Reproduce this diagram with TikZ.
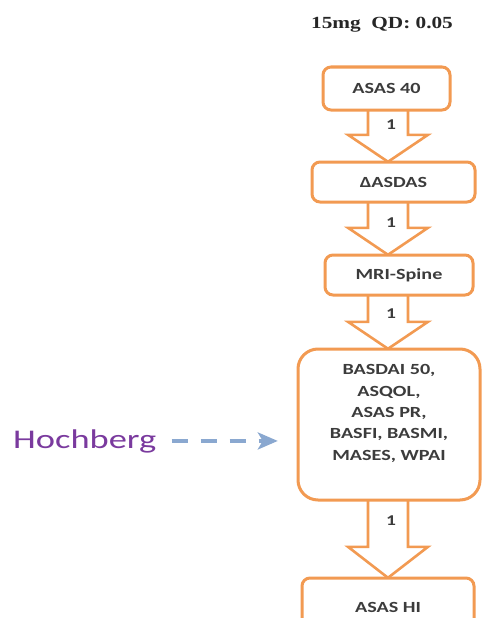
\documentclass[tikz,border=0pt]{standalone}
\usepackage{fontspec}
\setmainfont{Carlito}
\newfontfamily\boxfont[FakeStretch=1.3]{Carlito}
\newfontfamily\hochfont[FakeStretch=1.35]{Carlito}
\newfontfamily\titlefont[FakeStretch=1.25]{Liberation Serif}
\usetikzlibrary{calc,arrows.meta}
\definecolor{orng}{HTML}{F29A52}
\definecolor{txt}{HTML}{3C3C3C}
\definecolor{purp}{HTML}{7A3A9E}
\definecolor{dashblue}{HTML}{8AA8D0}
\newcommand{\blockarr}[3]{%
  \draw[barrow] ($(axis |- #1.south)+(-20,0)$) -- ($(axis |- #2.north)+(-20,-#3)$)
    -- ($(axis |- #2.north)+(-40,-#3)$) -- (axis |- #2.north)
    -- ($(axis |- #2.north)+(40,-#3)$) -- ($(axis |- #2.north)+(20,-#3)$)
    -- ($(axis |- #1.south)+(20,0)$);}
\begin{document}
\begin{tikzpicture}[x=1pt,y=-1pt,
  box/.style={draw=orng, line width=3pt, fill=white, rounded corners=8pt,
    align=center, font=\boxfont\bfseries\fontsize{15.5}{21.3}\selectfont,
    text=txt, inner sep=0pt},
  barrow/.style={draw=orng, line width=2.6pt, fill=white, line join=miter},
  num/.style={font=\boxfont\bfseries\fontsize{15}{18}\selectfont, text=txt, inner sep=0pt}]
\useasboundingbox (0,0) rectangle (482,618);
\coordinate (axis) at (388,0);
% title
\node[font=\titlefont\bfseries\fontsize{17}{19}\selectfont, text=black!85] (title) at (382,25) {15mg\ \ QD: 0.05};
% box frames (positions)
\path (386.5,88.5) coordinate (p1) (393.5,182) coordinate (p2) (399,275) coordinate (p3)
      (389,424.5) coordinate (p4) (388,607) coordinate (p5);
\node[minimum width=127pt, minimum height=43pt, inner sep=0pt] (b1) at (p1) {};
\node[minimum width=163pt, minimum height=40pt, inner sep=0pt] (b2) at (p2) {};
\node[minimum width=148pt, minimum height=40pt, inner sep=0pt] (b3) at (p3) {};
\node[minimum width=182pt, minimum height=151pt, inner sep=0pt] (b4) at (p4) {};
\node[minimum width=172pt, minimum height=58pt, inner sep=0pt] (b5) at (p5) {};
% block arrows
\blockarr{b1}{b2}{27}
\blockarr{b2}{b3}{27}
\blockarr{b3}{b4}{27}
\blockarr{b4}{b5}{31}
% boxes drawn
\node[box, minimum width=127pt, minimum height=43pt] (B1) at (p1) {ASAS 40};
\node[box, minimum width=163pt, minimum height=40pt] (B2) at (p2) {ΔASDAS};
\node[box, minimum width=148pt, minimum height=40pt] (B3) at (p3) {MRI-Spine};
\node[box, minimum width=182pt, minimum height=151pt, rounded corners=20pt] (B4) at (p4) {BASDAI 50,\\ASQOL,\\ASAS PR,\\BASFI, BASMI,\\MASES, WPAI\\[3pt]};
\node[box, minimum width=172pt, minimum height=58pt] (B5) at (p5) {ASAS HI};
% labels
\node[num] (n1) at (391,125) {1};
\node[num] (n2) at (391,223) {1};
\node[num] (n3) at (391,314) {1};
\node[num] (n4) at (391,521) {1};
% Hochberg
\node[font=\hochfont\fontsize{27}{30}\selectfont, text=purp, anchor=base west, inner sep=0pt] (hoch) at (13,448) {Hochberg};
\draw[dashblue, line width=3.5pt, dash pattern=on 16pt off 13pt,
  -{Stealth[length=20pt,width=17pt,inset=5pt]}, shorten <=15pt, shorten >=20pt]
  (hoch.east) -- (hoch.east -| b4.west);
\end{tikzpicture}
\end{document}
